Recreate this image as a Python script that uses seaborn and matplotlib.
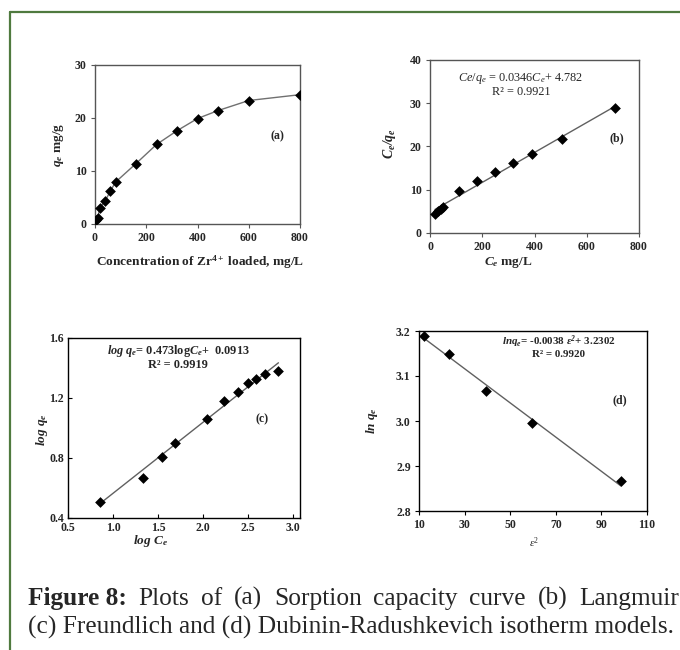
import numpy as np
import pandas as pd
import matplotlib
matplotlib.use("Agg")
import matplotlib.pyplot as plt
import seaborn as sns
from matplotlib.lines import Line2D

# ---------------- data ----------------
a_conc = [5, 10, 20, 40, 60, 80, 160, 240, 320, 400, 480, 600, 800]
a_qe = [0.8, 1.2, 3.1, 4.4, 6.2, 7.9, 11.4, 15.0, 17.6, 19.9, 21.4, 23.3, 24.4]

b_ce = [19, 32, 41, 48, 112, 181, 250, 318, 392, 506, 707]
b_ceqe = [4.3, 5.0, 5.6, 6.1, 9.7, 12.0, 14.1, 16.1, 18.3, 21.7, 28.8]
b_slope, b_int = 0.0346, 4.782

c_logce = [0.86, 1.33, 1.54, 1.69, 2.05, 2.24, 2.39, 2.50, 2.59, 2.69, 2.84]
c_logqe = [0.51, 0.67, 0.81, 0.90, 1.06, 1.18, 1.24, 1.30, 1.33, 1.36, 1.38]
c_slope, c_int = 0.473, 0.0913

d_eps2 = [12.2, 23.3, 39.4, 59.7, 98.6]
d_lnqe = [3.19, 3.148, 3.067, 2.995, 2.867]
d_slope, d_int = -0.0038, 3.2302

a_xticks = [0, 200, 400, 600, 800]
a_yticks = [0, 10, 20, 30]
b_xticks = [0, 200, 400, 600, 800]
b_yticks = [0, 10, 20, 30, 40]
c_xticks = [0.5, 1.0, 1.5, 2.0, 2.5, 3.0]
c_yticks = [0.4, 0.8, 1.2, 1.6]
d_xticks = [10, 30, 50, 70, 90, 110]
d_yticks = [2.8, 2.9, 3.0, 3.1, 3.2]

caption_line1 = ['Plots', 'of', '(a)', 'Sorption', 'capacity', 'curve', '(b)', 'Langmuir']
caption_line2 = '(c) Freundlich and (d) Dubinin-Radushkevich isotherm models.'

# ---------------- style ----------------
sns.set_theme(style="white")
plt.rcParams['font.family'] = ['Liberation Serif', 'DejaVu Serif']
plt.rcParams['mathtext.fontset'] = 'custom'
plt.rcParams['mathtext.rm'] = 'Liberation Serif'
plt.rcParams['mathtext.it'] = 'Liberation Serif:italic'
plt.rcParams['mathtext.bf'] = 'Liberation Serif:bold'
plt.rcParams['mathtext.bfit'] = 'Liberation Serif:bold:italic'

W, H = 680, 650
fig = plt.figure(figsize=(W / 100, H / 100), dpi=100)


def rect(l, t, r, b):
    return [l / W, 1 - b / H, (r - l) / W, (b - t) / H]


def ftext(x, y, s, **kw):
    return fig.text(x / W, 1 - y / H, s, **kw)


def style_ax(ax, xt, yt, xl, yl, spine_col, tdir, fmt_x, fmt_y):
    ax.set_xlim(*xl)
    ax.set_ylim(*yl)
    ax.set_xticks(xt)
    ax.set_yticks(yt)
    ax.set_xticklabels([fmt_x.format(v) for v in xt])
    ax.set_yticklabels([fmt_y.format(v) for v in yt])
    for s in ax.spines.values():
        s.set_visible(True)
        s.set_color(spine_col)
        s.set_linewidth(1.0)
    ax.tick_params(axis='both', direction=tdir, length=3, width=0.8,
                   color=spine_col, labelsize=8.5, pad=3,
                   bottom=True, left=True)
    for lab in ax.get_xticklabels() + ax.get_yticklabels():
        lab.set_fontweight('bold')
    ax.set_xlabel('')
    ax.set_ylabel('')
    ax.grid(False)


mk = dict(marker='D', s=30, color='black', edgecolor='black', linewidth=0, zorder=3)
fitcol = '#606060'

# ---- (a) ----
axa = fig.add_axes(rect(95, 65, 300, 224))
dfa = pd.DataFrame({'x': a_conc, 'y': a_qe})
sns.lineplot(data=dfa, x='x', y='y', ax=axa, color='#707070', lw=1.0, zorder=2)
sns.scatterplot(data=dfa, x='x', y='y', ax=axa, **mk)
style_ax(axa, a_xticks, a_yticks, (0, 800), (0, 30), '#555555', 'out', '{:g}', '{:g}')
ftext(277, 136, '(a)', fontsize=8.5, fontweight='bold', ha='center', va='center')
ftext(200, 262, r'Concentration of Zr$^{\mathbf{4+}}$ loaded, mg/L', fontsize=9.6,
      fontweight='bold', ha='center', va='center')
ftext(58, 145, r'$\mathbfit{q_e}$ mg/g', fontsize=9.5, fontweight='bold',
      ha='center', va='center', rotation=90)

# ---- (b) ----
axb = fig.add_axes(rect(430, 60, 639, 233))
dfb = pd.DataFrame({'x': b_ce, 'y': b_ceqe})
bx = np.array([min(b_ce), max(b_ce)])
axb.plot(bx, b_slope * bx + b_int, color=fitcol, lw=1.0, zorder=2)
sns.scatterplot(data=dfb, x='x', y='y', ax=axb, **mk)
style_ax(axb, b_xticks, b_yticks, (0, 800), (0, 40), '#555555', 'out', '{:g}', '{:g}')
ftext(521, 78, r'$\mathit{Ce/q_e}$ = 0.0346$\mathit{C_e}$+ 4.782', fontsize=8.8,
      ha='center', va='center')
ftext(521, 92, 'R² = 0.9921', fontsize=8.8, ha='center', va='center')
ftext(617, 138, '(b)', fontsize=8.5, fontweight='bold', ha='center', va='center')
ftext(508, 263, r'$\mathbfit{C_e}$ mg/L', fontsize=9.5, fontweight='bold',
      ha='center', va='center')
ftext(390, 143, r'$\mathbfit{C_e/q_e}$', fontsize=10, ha='center', va='center', rotation=90)

# ---- (c) ----
axc = fig.add_axes(rect(68, 338, 300, 518))
dfc = pd.DataFrame({'x': c_logce, 'y': c_logqe})
cx = np.array([min(c_logce), max(c_logce)])
axc.plot(cx, c_slope * cx + c_int, color=fitcol, lw=1.0, zorder=2)
sns.scatterplot(data=dfc, x='x', y='y', ax=axc, **mk)
style_ax(axc, c_xticks, c_yticks, (0.5, 3.08), (0.4, 1.6), 'black', 'in', '{:.1f}', '{:.1f}')
ftext(178, 351, r'$\mathbfit{log\ q_e}$= 0.473log$\mathbfit{C_e}$+  0.0913', fontsize=8.8,
      fontweight='bold', ha='center', va='center')
ftext(178, 365, 'R² = 0.9919', fontsize=8.8, fontweight='bold', ha='center', va='center')
ftext(262, 419, '(c)', fontsize=8.5, fontweight='bold', ha='center', va='center')
ftext(150, 541, r'$\mathbfit{log\ C_e}$', fontsize=9.5, ha='center', va='center')
ftext(42, 430, r'$\mathbfit{log\ q_e}$', fontsize=9.5, ha='center', va='center', rotation=90)

# ---- (d) ----
axd = fig.add_axes(rect(419, 331, 647, 511))
dfd = pd.DataFrame({'x': d_eps2, 'y': d_lnqe})
dx = np.array([min(d_eps2), max(d_eps2)])
axd.plot(dx, d_slope * dx + d_int, color=fitcol, lw=1.0, zorder=2)
sns.scatterplot(data=dfd, x='x', y='y', ax=axd, **mk)
style_ax(axd, d_xticks, d_yticks, (10, 110), (2.8, 3.2), 'black', 'out', '{:g}', '{:.1f}')
ftext(559, 342, r'$\mathbfit{lnq_e}$= -0.0038 $\mathbfit{\varepsilon^2}$+ 3.2302', fontsize=7.9,
      fontweight='bold', ha='center', va='center')
ftext(559, 355, 'R² = 0.9920', fontsize=7.9, fontweight='bold', ha='center', va='center')
ftext(620, 400, '(d)', fontsize=8.5, fontweight='bold', ha='center', va='center')
ftext(534, 543, r'$\mathit{\varepsilon^2}$', fontsize=8, ha='center', va='center')
ftext(372, 421, r'$\mathbfit{ln\ q_e}$', fontsize=9.5, ha='center', va='center', rotation=90)

# ---- frame ----
green = '#4f7a3f'
fig.add_artist(Line2D([10 / W, 10 / W], [0, 1 - 12 / H], color=green, lw=1.6,
                      transform=fig.transFigure))
fig.add_artist(Line2D([10 / W, 1], [1 - 12 / H, 1 - 12 / H], color=green, lw=1.6,
                      transform=fig.transFigure))

# ---- caption (first line justified to the right edge) ----
cap_fs = 18.3
x0, x_end = 28, 679
renderer = fig.canvas.get_renderer()
head = ftext(x0, 605, 'Figure 8:', fontsize=cap_fs, fontweight='bold', ha='left', va='baseline')
head_w = head.get_window_extent(renderer).width
word_objs = [ftext(0, 605, w, fontsize=cap_fs, ha='left', va='baseline') for w in caption_line1]
widths = [t.get_window_extent(renderer).width for t in word_objs]
gap = (x_end - x0 - head_w - sum(widths)) / len(widths)
xpos = x0 + head_w + gap
for t, wdt in zip(word_objs, widths):
    t.set_x(xpos / W)
    xpos += wdt + gap
ftext(x0, 634, caption_line2, fontsize=cap_fs, ha='left', va='baseline')

fig.savefig('out.png', dpi=100)
